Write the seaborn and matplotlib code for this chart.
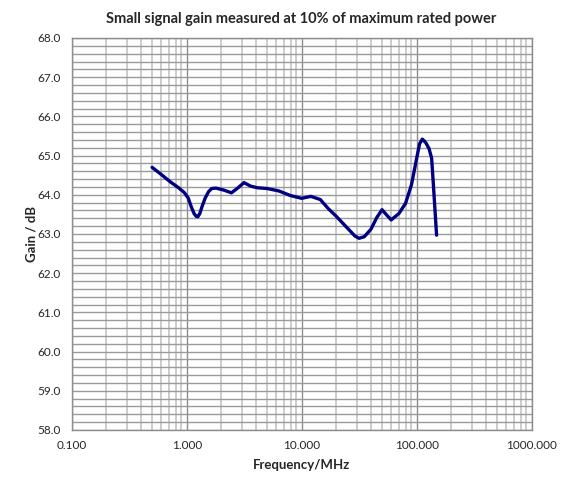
import pandas as pd
import seaborn as sns
import matplotlib.pyplot as plt
from matplotlib.ticker import LogLocator, MultipleLocator, FuncFormatter, NullFormatter

# data
freq_mhz = [0.5, 0.6, 0.72, 0.85, 0.95, 1.03, 1.1, 1.16, 1.21, 1.25, 1.3, 1.36,
            1.45, 1.55, 1.65, 1.8, 2.1, 2.45, 2.8, 3.15, 3.6, 4.1, 5.0, 6.3,
            8.0, 10.0, 12.0, 14.5, 17.0, 20.0, 25.0, 29.0, 31.5, 35.0, 40.0,
            45.0, 50.0, 55.0, 60.0, 70.0, 80.0, 90.0, 100.0, 106.0, 112.0,
            120.0, 128.0, 135.0, 141.0, 149.0]
gain_db = [64.70, 64.52, 64.33, 64.18, 64.06, 63.92, 63.68, 63.52, 63.45, 63.44,
           63.52, 63.70, 63.92, 64.08, 64.16, 64.17, 64.12, 64.05, 64.18, 64.31,
           64.22, 64.18, 64.16, 64.10, 63.98, 63.91, 63.96, 63.88, 63.65, 63.45,
           63.15, 62.95, 62.89, 62.93, 63.12, 63.42, 63.62, 63.48, 63.36, 63.52,
           63.78, 64.25, 64.93, 65.30, 65.42, 65.33, 65.18, 64.93, 64.08, 62.97]

df = pd.DataFrame({'freq': freq_mhz, 'gain': gain_db})

sns.set_style('white')
plt.rcParams['font.family'] = ['Lato', 'DejaVu Sans']

fig = plt.figure(figsize=(5.62, 4.79), dpi=100)
ax = fig.add_axes([0.1276, 0.1023, 0.8184, 0.8184])

sns.lineplot(data=df, x='freq', y='gain', color='#000080', linewidth=2.4, ax=ax, sort=False)

ax.set_xscale('log')
ax.set_xlim(0.1, 1000)
ax.set_ylim(58, 68)

ax.xaxis.set_major_locator(LogLocator(base=10))
ax.xaxis.set_minor_locator(LogLocator(base=10, subs=range(2, 10)))
ax.xaxis.set_major_formatter(FuncFormatter(lambda v, p: f'{v:.3f}'))
ax.xaxis.set_minor_formatter(NullFormatter())
ax.yaxis.set_major_locator(MultipleLocator(1))
ax.yaxis.set_minor_locator(MultipleLocator(0.2))
ax.yaxis.set_major_formatter(FuncFormatter(lambda v, p: f'{v:.1f}'))

# grid
ax.grid(which='major', axis='x', color='#8c8c8c', linewidth=1.0)
ax.grid(which='minor', axis='x', color='#cccccc', linewidth=1.4)
ax.grid(which='both', axis='y', color='#9a9a9a', linewidth=1.0)
ax.set_axisbelow(True)

for s in ax.spines.values():
    s.set_color('#8c8c8c')
    s.set_linewidth(1.0)

ax.tick_params(which='major', length=4, color='#8c8c8c', labelsize=8.5)
ax.tick_params(which='minor', length=0)
ax.tick_params(axis='y', pad=4)
ax.tick_params(axis='x', pad=3)

ax.set_title('Small signal gain measured at 10% of maximum rated power',
             fontsize=10.5, fontweight='bold', pad=11)
ax.set_xlabel('Frequency/MHz', fontsize=9.5, fontweight='bold', labelpad=6)
ax.set_ylabel('Gain / dB', fontsize=9.5, fontweight='bold', labelpad=6)
ax.yaxis.set_label_coords(-0.075, 0.5)

fig.savefig('out.png', dpi=100)
